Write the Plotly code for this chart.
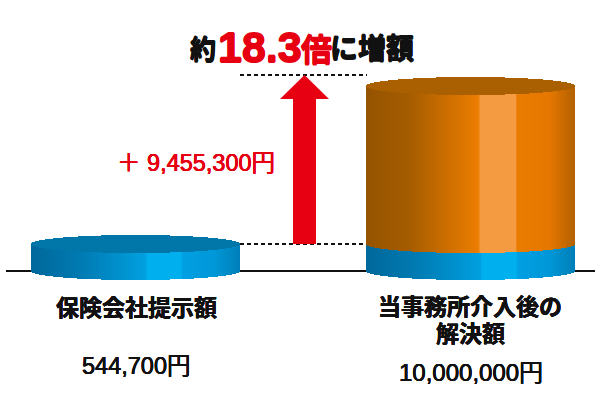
import numpy as np
import plotly.graph_objects as go

# --- data ---
categories = ["保険会社提示額", "当事務所介入後の<br>解決額"]
amount_labels = ["544,700円", "10,000,000円"]
difference_label = "＋ 9,455,300円"
# drawn heights (the original is not to scale)
offer_heights = [27, 27]
increase_heights = [0, 158]

# --- styles ---
BLUE = [(0, (0, 104, 155)), (.25, (0, 124, 180)), (.55, (0, 160, 224)), (.56, (0, 176, 238)),
        (.72, (0, 176, 238)), (.73, (0, 160, 228)), (.88, (0, 152, 216)), (1, (0, 128, 186))]
ORANGE = [(0, (150, 84, 0)), (.2, (165, 92, 0)), (.54, (236, 126, 0)), (.55, (244, 155, 66)),
          (.72, (244, 155, 66)), (.725, (234, 124, 0)), (.88, (230, 120, 0)), (1, (180, 98, 0))]
BLUE_TOP, ORANGE_TOP = "#0077a8", "#aa5f00"
RED = "#e60012"
CENTERS, RX, RY = [136, 471], 104, 9
FONT = "Noto Sans CJK JP"


def shade(stops, u):
    xs = [s[0] for s in stops]
    return "rgb(%d,%d,%d)" % tuple(np.interp(u, xs, [s[1][i] for s in stops]) for i in range(3))


xs_rel = np.arange(-RX + .5, RX, 1.0)
curve = RY * np.sqrt(1 - (xs_rel / RX) ** 2)
u = (xs_rel + RX) / (2 * RX)


def side(cx, low, high, stops):
    return go.Bar(x=cx + xs_rel, base=low - curve, y=np.full_like(xs_rel, high - low), width=1.02,
                  marker=dict(color=[shade(stops, v) for v in u], line_width=0), hoverinfo="skip")


def cap(cx, level, color):
    return go.Bar(x=cx + xs_rel, base=level - curve, y=2 * curve, width=1.02,
                  marker=dict(color=color, line_width=0), hoverinfo="skip")


fig = go.Figure()
for i, cx in enumerate(CENTERS):
    h1, h2 = offer_heights[i], increase_heights[i]
    fig.add_trace(side(cx, 0, h1, BLUE))
    if h2:
        fig.add_trace(side(cx, h1, h1 + h2, ORANGE))
        fig.add_trace(cap(cx, h1 + h2, ORANGE_TOP))
    else:
        fig.add_trace(cap(cx, h1, BLUE_TOP))

base_y = offer_heights[0]
top_y = offer_heights[1] + increase_heights[1] + 11
ax, shaft, head = 304.5, 11.5, 24.5
fig.add_trace(go.Scatter(
    x=[ax - shaft, ax - shaft, ax - head, ax, ax + head, ax + shaft, ax + shaft, ax - shaft],
    y=[base_y, top_y - 24, top_y - 24, top_y, top_y - 24, top_y - 24, base_y, base_y],
    mode="lines", fill="toself", fillcolor=RED, line=dict(width=0), hoverinfo="skip"))

for level in (base_y, top_y):
    fig.add_shape(type="line", x0=240, x1=367, y0=level, y1=level, layer="below",
                  line=dict(color="#111", width=1.8, dash="4px,3px"))
fig.add_shape(type="line", x0=6, x1=595, y0=0, y1=0, layer="below", line=dict(color="#111", width=2))


def txt(x, py, s, size, color="#111", bold=True, font=FONT, stroke=0, xanchor="center"):
    f = dict(family=font, size=size, color=color)
    if bold:
        f["weight"] = 700
    if stroke:
        f["shadow"] = f"{stroke}px 0 {color}, -{stroke}px 0 {color}, 0 {stroke}px {color}, 0 -{stroke}px {color}"
    fig.add_annotation(x=x, y=271 - py, text=s, showarrow=False, font=f, xanchor=xanchor, yanchor="middle",
                       align="center", xref="x", yref="y", borderpad=0, borderwidth=0)


LATIN = "Liberation Sans, " + FONT
txt(203, 47, "約", 26, stroke=.6)
txt(260, 47, "18.3", 43, RED, font="Liberation Sans", stroke=.7)
txt(316, 47, "倍", 31, RED, stroke=.6)
txt(372, 47, "に増額", 28, stroke=.6)
txt(196, 163, difference_label, 23.5, RED, bold=False, font=LATIN, stroke=.3)
txt(136, 308, categories[0], 23, font=LATIN, stroke=.2)
line_one, line_two = categories[1].split("<br>")
txt(470, 307, line_one, 23, font=LATIN, stroke=.2)
txt(470, 333.5, line_two, 23, font=LATIN, stroke=.2)
txt(136, 366, amount_labels[0], 23.5, bold=False, font=LATIN, stroke=.2)
txt(471, 372, amount_labels[1], 24, bold=False, font=LATIN, stroke=.2)

fig.update_layout(
    width=600, height=400, margin=dict(l=0, r=0, t=0, b=0), showlegend=False, barmode="overlay",
    paper_bgcolor="white", plot_bgcolor="white", bargap=0,
    xaxis=dict(range=[0, 600], visible=False, fixedrange=True),
    yaxis=dict(range=[-129, 271], visible=False, fixedrange=True),
)
fig.write_html("out.html", config={"displayModeBar": False},
               post_script="document.body.style.margin='0';")
